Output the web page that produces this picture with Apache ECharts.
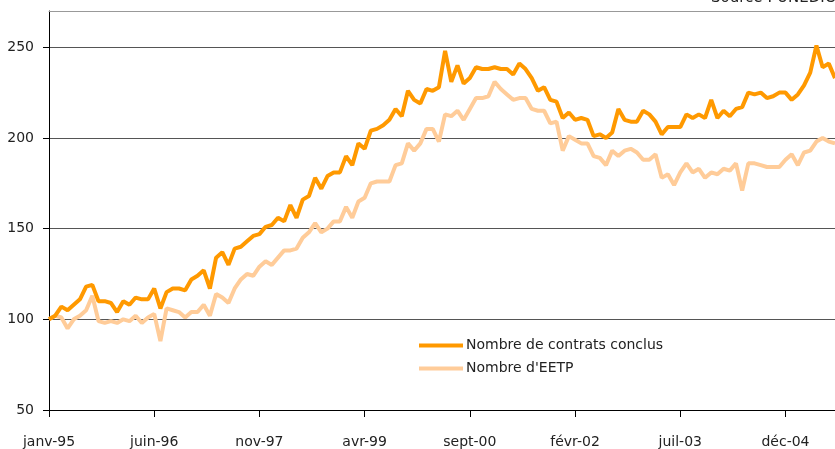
<!DOCTYPE html>
<html>
<head>
<meta charset="utf-8">
<script src="https://cdn.jsdelivr.net/npm/echarts@6/dist/echarts.min.js"></script>
<style>
html,body{margin:0;padding:0;background:#fff;}
#chart{width:835px;height:449px;}
</style>
</head>
<body>
<div id="chart"></div>
<script>
var moisNoms=['janv','févr','mars','avr','mai','juin','juil','août','sept','oct','nov','déc'];
var anneeDebut=1995;
var nbMois=128;

// indice base 100 en janvier 1995
var contrats=[100,102,107,105,108,111,118,119,110,110,109,104,110,108,112,111,
111,117,106,115,117,117,116,122,124,127,117,134,137,130,139,140,
143,146,147,151,152,156,154,163,156,166,168,178,172,179,181,181,
190,185,197,194,204,205,207,210,216,212,226,221,219,227,226,228,
248,231,240,230,233,239,238,238,239,238,238,235,241,238,233,226,
228,221,220,211,214,210,211,210,201,202,200,203,216,210,209,209,
215,213,209,202,206,206,206,213,211,213,211,221,211,215,212,216,
217,225,224,225,222,223,225,225,221,224,229,236,251,239,241,233];

var eetp=[100,102,101,95,100,102,105,113,99,98,99,98,100,99,102,98,
101,103,88,106,105,104,101,104,104,108,102,114,112,109,117,122,
125,124,129,132,130,134,138,138,139,145,148,153,148,150,154,154,
162,156,165,167,175,176,176,176,185,186,197,193,197,205,205,198,
213,212,215,210,216,222,222,223,231,227,224,221,222,222,216,215,
215,208,209,193,201,199,197,197,190,189,185,193,190,193,194,192,
188,188,191,178,180,174,181,186,181,183,178,181,180,183,182,186,
171,186,186,185,184,184,184,188,191,185,192,193,198,200,198,197];

var yTicks=[50,100,150,200,250];

var mois=[];
for(var i=0;i<nbMois;i++){
	var a=anneeDebut+Math.floor(i/12);
	mois.push(moisNoms[i%12]+'-'+String(a).slice(2));
}

var chart=echarts.init(document.getElementById('chart'));

function draw(){
	var police='DejaVu Sans';
	var option={
		animation:false,
		grid:{left:49,right:0,top:11,bottom:39},
		legend:{
			orient:'vertical',
			left:419,
			top:337,
			padding:0,
			icon:'rect',
			itemWidth:44,
			itemHeight:4,
			itemGap:6,
			data:['Nombre de contrats conclus',"Nombre d'EETP"],
			textStyle:{fontFamily:police,fontSize:14,color:'#222',lineHeight:17,padding:[0,0,0,-2]}
		},
		graphic:[{
			type:'text',
			left:711,
			top:-9,
			style:{text:'Source : UNEDIC',font:'15px "DejaVu Sans"',fill:'#222'}
		}],
		xAxis:[{
			type:'category',
			data:mois,
			boundaryGap:false,
			axisLine:{lineStyle:{color:'#000',width:1}},
			axisTick:{interval:16,length:7,lineStyle:{color:'#000'}},
			axisLabel:{interval:16,margin:25,fontFamily:police,fontSize:14,color:'#222'},
			splitLine:{show:false}
		},{
			type:'category',
			position:'top',
			data:mois,
			boundaryGap:false,
			axisLine:{onZero:false,lineStyle:{color:'#999',width:1}},
			axisTick:{show:false},
			axisLabel:{show:false}
		}],
		yAxis:{
			type:'value',
			min:50,
			max:270,
			interval:50,
			axisLine:{show:true,lineStyle:{color:'#000',width:1}},
			axisTick:{show:true,length:6,customValues:yTicks,lineStyle:{color:'#000'}},
			axisLabel:{margin:15,customValues:yTicks,fontFamily:police,fontSize:14,color:'#222'},
			splitLine:{lineStyle:{color:'#555',width:1}}
		},
		series:[{
			name:"Nombre d'EETP",
			type:'line',
			data:eetp,
			symbol:'none',
			lineStyle:{color:'#FFCC99',width:4},
			itemStyle:{color:'#FFCC99'}
		},{
			name:'Nombre de contrats conclus',
			type:'line',
			data:contrats,
			symbol:'none',
			lineStyle:{color:'#FF9900',width:4},
			itemStyle:{color:'#FF9900'}
		}]
	};
	chart.setOption(option);
}

draw();
</script>
</body>
</html>
